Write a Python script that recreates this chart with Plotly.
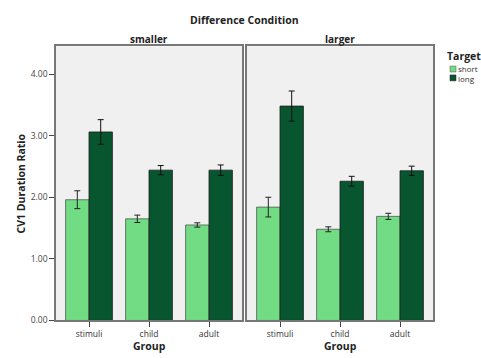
import plotly.graph_objects as go

groups = ["stimuli", "child", "adult"]
panels = ["smaller", "larger"]
targets = ["short", "long"]

# means per panel, per target
smaller_short = [1.96, 1.65, 1.55]
smaller_long = [3.06, 2.44, 2.44]
larger_short = [1.84, 1.48, 1.69]
larger_long = [3.48, 2.26, 2.43]

# error (half-widths)
smaller_short_err = [0.145, 0.06, 0.035]
smaller_long_err = [0.20, 0.075, 0.085]
larger_short_err = [0.16, 0.04, 0.05]
larger_long_err = [0.245, 0.08, 0.075]

y_ticks = [0, 1, 2, 3, 4]

W, H = 481, 358
light = "#72DC84"
dark = "#08562F"
FONT = "Open Sans"

def px(x):
    return x / W

def py(y):
    return 1 - y / H

fig = go.Figure()

data = [
    ("x", "y", smaller_short, smaller_short_err, smaller_long, smaller_long_err),
    ("x2", "y2", larger_short, larger_short_err, larger_long, larger_long_err),
]
for xa, ya, s, se, l, le in data:
    fig.add_trace(go.Bar(x=groups, y=s, name=targets[0], marker=dict(color=light, line=dict(color="rgba(70,70,70,0.7)", width=1)),
                         error_y=dict(type="data", array=se, color="#222", thickness=1, width=3),
                         xaxis=xa, yaxis=ya, showlegend=False, offsetgroup="a"))
    fig.add_trace(go.Bar(x=groups, y=l, name=targets[1], marker=dict(color=dark, line=dict(color="rgba(30,30,30,0.8)", width=1)),
                         error_y=dict(type="data", array=le, color="#111", thickness=1, width=3),
                         xaxis=xa, yaxis=ya, showlegend=False, offsetgroup="b"))

ydom = [py(325), py(47)]
axcommon = dict(showline=True, linecolor="#777", linewidth=1.5, mirror=True, showgrid=False,
                zeroline=False)
fig.update_layout(
    width=W, height=H, margin=dict(l=0, r=0, t=0, b=0),
    paper_bgcolor="white", plot_bgcolor="#F0F0F0",
    barmode="group", bargap=0.22, bargroupgap=0,
    font=dict(family=FONT, color="#333"),
    xaxis=dict(domain=[px(56), px(242)], range=[-0.55, 2.55], type="category", ticks="outside", ticklen=5,
               tickcolor="#444", tickfont=dict(size=8.5, color="#333"), **axcommon),
    xaxis2=dict(domain=[px(247), px(433)], range=[-0.55, 2.55], type="category", ticks="outside", ticklen=5,
                tickcolor="#444", tickfont=dict(size=8.5, color="#333"), anchor="y2", **axcommon),
    yaxis=dict(domain=ydom, range=[0, 4.45], tickvals=y_ticks, tickformat=".2f", ticks="outside", ticklen=5,
               tickcolor="#444", tickfont=dict(size=8.5, color="#444"), **axcommon),
    yaxis2=dict(domain=ydom, range=[0, 4.45], anchor="x2", showticklabels=False, ticks="", **axcommon),
    showlegend=False,
)

ann = [
    dict(text="<b>Difference Condition</b>", x=px(244), y=py(20), font=dict(size=10.5, color="#222")),
    dict(text="<b>smaller</b>", x=px(149), y=py(40), font=dict(size=10, color="#222")),
    dict(text="<b>larger</b>", x=px(340), y=py(40), font=dict(size=10, color="#222")),
    dict(text="<b>Group</b>", x=px(149), y=py(351), font=dict(size=10.5, color="#222")),
    dict(text="<b>Group</b>", x=px(340), y=py(351), font=dict(size=10.5, color="#222")),
    dict(text="<b>CV1 Duration Ratio</b>", x=px(21), y=py(186), textangle=-90, font=dict(size=10.5, color="#222")),
    dict(text="<b>Target</b>", x=px(445), y=py(57), xanchor="left", font=dict(size=10.5, color="#222")),
    dict(text="<br>".join(targets), x=px(456), y=py(74.5), xanchor="left", align="left",
         font=dict(size=8, color="#333")),
]
for a in ann:
    a.setdefault("xanchor", "center")
    fig.add_annotation(xref="paper", yref="paper", showarrow=False, yanchor="middle", **a)

fig.add_shape(type="rect", xref="paper", yref="paper", x0=px(450), x1=px(456), y0=py(73), y1=py(67),
              fillcolor=light, line=dict(color="#555", width=0.5))
fig.add_shape(type="rect", xref="paper", yref="paper", x0=px(450), x1=px(456), y0=py(82), y1=py(76),
              fillcolor=dark, line=dict(color="#222", width=0.5))

fig.write_html("out.html", config={"displayModeBar": False},
               post_script="document.body.style.margin='0';document.body.style.overflow='hidden';")
